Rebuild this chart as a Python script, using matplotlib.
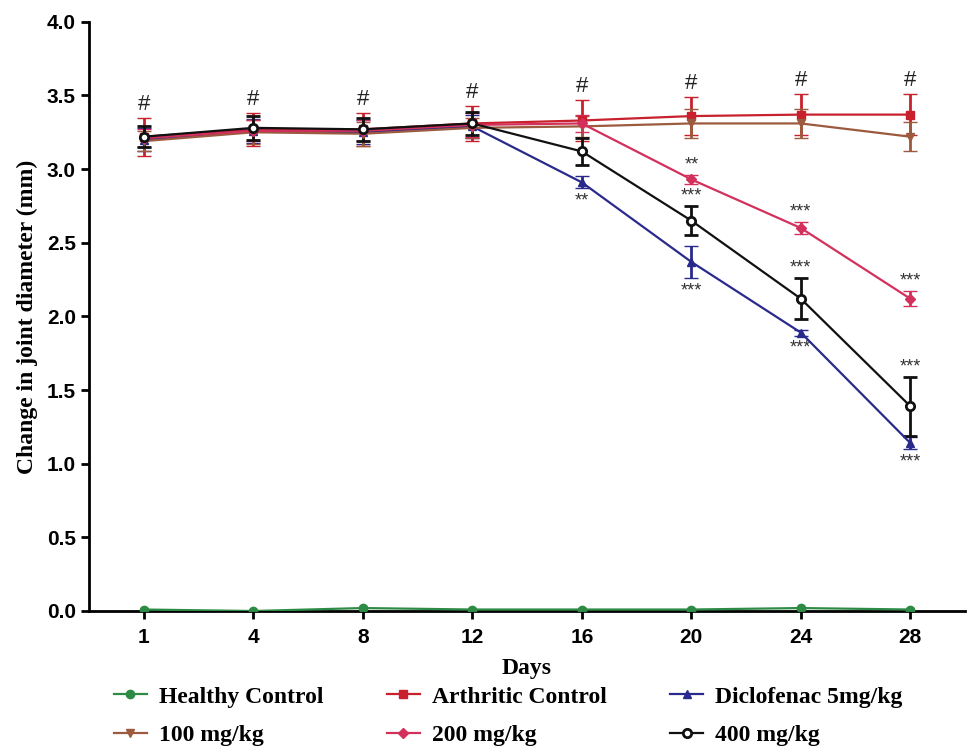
import matplotlib.pyplot as plt

# 数据
days = ["1", "4", "8", "12", "16", "20", "24", "28"]

healthy = [0.01, 0.00, 0.02, 0.01, 0.01, 0.01, 0.02, 0.01]
healthy_err = [0.01, 0.01, 0.01, 0.01, 0.01, 0.01, 0.01, 0.01]

arthritic = [3.22, 3.27, 3.27, 3.31, 3.33, 3.36, 3.37, 3.37]
arthritic_err = [0.13, 0.11, 0.11, 0.12, 0.14, 0.13, 0.14, 0.14]

diclo = [3.20, 3.26, 3.25, 3.29, 2.91, 2.37, 1.89, 1.14]
diclo_err = [0.08, 0.08, 0.08, 0.08, 0.04, 0.11, 0.02, 0.04]

dose100 = [3.19, 3.25, 3.24, 3.28, 3.29, 3.31, 3.31, 3.22]
dose100_err = [0.07, 0.08, 0.08, 0.07, 0.07, 0.10, 0.10, 0.10]

dose200 = [3.21, 3.26, 3.26, 3.30, 3.31, 2.93, 2.60, 2.12]
dose200_err = [0.06, 0.07, 0.07, 0.08, 0.06, 0.03, 0.04, 0.05]

dose400 = [3.22, 3.28, 3.27, 3.31, 3.12, 2.65, 2.12, 1.39]
dose400_err = [0.07, 0.08, 0.08, 0.08, 0.09, 0.10, 0.14, 0.20]

# 显著性标记: (天索引, 组, 符号, 上/下)
stars = [
    (4, "diclo", "**", "below"),
    (5, "d200", "**", "above"),
    (5, "d400", "***", "above"),
    (5, "diclo", "***", "below"),
    (6, "d200", "***", "above"),
    (6, "d400", "***", "above"),
    (6, "diclo", "***", "below"),
    (7, "d200", "***", "above"),
    (7, "d400", "***", "above"),
    (7, "diclo", "***", "below"),
]

plt.rcParams['font.family'] = ['Liberation Sans', 'DejaVu Sans']

fig = plt.figure(figsize=(9.68, 7.52), dpi=100)
ax = fig.add_axes([0.092, 0.1875, 0.905, 0.7835])

x = list(range(len(days)))

series = {
    "healthy": (healthy, healthy_err, "#2e8b45", "o", "Healthy Control", True),
    "arthritic": (arthritic, arthritic_err, "#c8202c", "s", "Arthritic Control", True),
    "diclo": (diclo, diclo_err, "#2a2a8c", "^", "Diclofenac 5mg/kg", True),
    "d100": (dose100, dose100_err, "#9c5a3e", "v", "100 mg/kg", True),
    "d200": (dose200, dose200_err, "#d3305c", "D", "200 mg/kg", True),
    "d400": (dose400, dose400_err, "#111111", "o", "400 mg/kg", False),
}

lines = {}
for key, (vals, errs, col, mk, lab, filled) in series.items():
    ms = 6 if mk != "D" else 5
    h = ax.errorbar(x, vals, yerr=errs, color=col, marker=mk, markersize=ms,
                    markerfacecolor=col if filled else "white",
                    markeredgecolor=col, markeredgewidth=2 if not filled else 1,
                    linewidth=1.6, elinewidth=2, capsize=3 if key == "healthy" else 5,
                    capthick=2.2, label=lab, zorder=3)
    lines[key] = h[0]

# "#" 标记在关节炎组上方
for i in x:
    ax.annotate("#", (i, arthritic[i] + arthritic_err[i]), xytext=(0, 2),
                textcoords="offset points", ha="center", va="bottom",
                fontsize=16, color="#222222")

for i, key, s, pos in stars:
    vals, errs = series[key][0], series[key][1]
    if pos == "above":
        ax.annotate(s, (i, vals[i] + errs[i]), xytext=(0, 1), textcoords="offset points",
                    ha="center", va="bottom", fontsize=13, color="#333333")
    else:
        ax.annotate(s, (i, vals[i] - errs[i]), xytext=(0, -3), textcoords="offset points",
                    ha="center", va="top", fontsize=13, color="#333333")

ax.set_xlim(-0.5, 7.5)
ax.set_ylim(0, 4.0)
ax.set_xticks(x)
ax.set_xticklabels(days)
ax.set_yticks([0, 0.5, 1.0, 1.5, 2.0, 2.5, 3.0, 3.5, 4.0])
ax.set_yticklabels(["0.0", "0.5", "1.0", "1.5", "2.0", "2.5", "3.0", "3.5", "4.0"])
ax.tick_params(axis="both", direction="out", length=6, width=2, labelsize=15)
ax.tick_params(axis="x", pad=6)
for lbl in ax.get_xticklabels() + ax.get_yticklabels():
    lbl.set_fontweight("bold")
ax.spines["top"].set_visible(False)
ax.spines["right"].set_visible(False)
ax.spines["left"].set_linewidth(2)
ax.spines["bottom"].set_linewidth(2)

serif = ['Liberation Serif', 'DejaVu Serif']
ax.set_xlabel("Days", fontsize=17, fontweight="bold", family=serif, labelpad=8)
ax.set_ylabel("Change in joint diameter (mm)", fontsize=17, fontweight="bold", family=serif, labelpad=6)

# 图例按行排列（matplotlib按列填充，所以调整顺序）
order = ["healthy", "d100", "arthritic", "d200", "diclo", "d400"]
leg = fig.legend([lines[k] for k in order], [series[k][4] for k in order],
                 loc="lower center", bbox_to_anchor=(0.525, -0.02), ncol=3,
                 frameon=False, prop={"family": serif, "weight": "bold", "size": 17},
                 columnspacing=2.7, handlelength=1.4, handletextpad=0.5, labelspacing=0.7)

plt.savefig("out.png", dpi=100)
